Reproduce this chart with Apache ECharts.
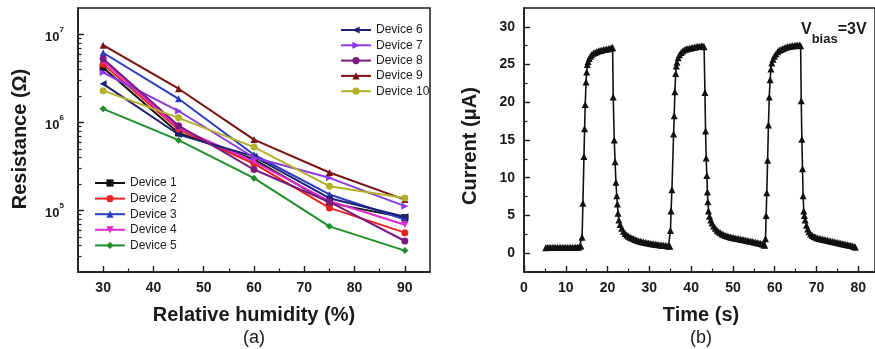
<!DOCTYPE html>
<html><head><meta charset="utf-8">
<script src="https://cdn.jsdelivr.net/npm/echarts@6/dist/echarts.min.js"></script>
<style>html,body{margin:0;padding:0;background:#fff}#c{width:875px;height:349px}</style>
</head><body><div id="c"></div>
<script>
// ---------- Panel (a): resistance vs relative humidity ----------
const humidity = [30, 45, 60, 75, 90];
const device1  = [4.2e6, 7.6e5, 3.8e5, 1.22e5, 8.3e4];
const device2  = [4.6e6, 8.3e5, 3.4e5, 1.07e5, 5.6e4];
const device3  = [6.2e6, 1.86e6, 4.3e5, 1.52e5, 7.9e4];
const device4  = [5.0e6, 8.7e5, 3.6e5, 1.28e5, 6.9e4];
const device5  = [1.43e6, 6.3e5, 2.33e5, 6.6e4, 3.5e4];
const device6  = [2.75e6, 7.3e5, 4.1e5, 1.38e5, 8.5e4];
const device7  = [3.7e6, 1.35e6, 4.0e5, 2.35e5, 1.12e5];
const device8  = [5.3e6, 9.2e5, 2.92e5, 1.25e5, 4.5e4];
const device9  = [7.57e6, 2.42e6, 6.4e5, 2.7e5, 1.33e5];
const device10 = [2.3e6, 1.13e6, 5.25e5, 1.89e5, 1.39e5];
const deviceNames = ['Device 1','Device 2','Device 3','Device 4','Device 5','Device 6','Device 7','Device 8','Device 9','Device 10'];
const humidityTicks = [30, 40, 50, 60, 70, 80, 90];
const humidityMinorTicks = [35, 45, 55, 65, 75, 85];
const resistanceTicks = [1e5, 1e6, 1e7];
const resistanceMinorTicks = [3e4,4e4,5e4,6e4,7e4,8e4,9e4,2e5,3e5,4e5,5e5,6e5,7e5,8e5,9e5,2e6,3e6,4e6,5e6,6e6,7e6,8e6,9e6];

// ---------- Panel (b): current vs time ----------
const cycle1 = [
 [5.2,0.72],[5.6,0.74],[6.0,0.75],[6.4,0.76],[6.8,0.76],[7.2,0.75],[7.6,0.75],[8.0,0.76],[8.4,0.76],[8.8,0.75],[9.2,0.76],
 [9.6,0.75],[10.0,0.75],[10.4,0.76],[10.8,0.76],[11.2,0.75],[11.6,0.76],[12.0,0.76],[12.4,0.77],[12.8,0.78],[13.2,0.80],[13.6,0.95],
 [13.9,2.1],[14.1,6.6],[14.35,12.8],[14.5,16.5],[14.65,19.7],[14.85,22.7],[15.0,24.0],[15.15,25.0],
 [15.35,25.4],[15.6,25.8],[15.9,26.1],[16.2,26.3],[16.6,26.5],[17.0,26.6],[17.4,26.7],[17.8,26.8],[18.2,26.85],[18.6,26.9],
 [19.0,27.0],[19.4,27.0],[19.8,27.05],[20.2,27.1],[20.6,27.15],[21.0,27.2],[21.2,27.25],
 [21.35,20.7],[21.6,15.0],[21.8,12.1],[22.0,9.4],[22.2,7.6],[22.35,6.5],[22.5,5.3],
 [22.7,4.4],[23.0,3.8],[23.4,3.3],[23.8,2.9],[24.2,2.6],[24.6,2.4],[25.0,2.25],[25.4,2.1],[25.8,2.0],[26.2,1.9],[26.6,1.8],
 [27.0,1.72],[27.4,1.65],[27.8,1.58],[28.2,1.52],[28.6,1.47],[29.0,1.42],[29.4,1.37],[29.8,1.33],[30.2,1.29],[30.6,1.25],
 [31.0,1.21],[31.4,1.18],[31.8,1.14],[32.2,1.11],[32.6,1.08],[33.0,1.05],[33.4,1.03],[33.8,1.0],[34.2,0.98],[34.6,0.95],[34.9,0.92]
];
const cycle2 = [
 [35.05,3.0],[35.2,5.6],[35.4,8.4],[35.8,15.8],[35.95,18.2],[36.1,21.4],[36.3,23.8],[36.45,24.8],
 [36.6,25.3],[36.9,25.9],[37.2,26.3],[37.6,26.6],[38.0,26.8],[38.4,26.95],[38.8,27.05],[39.2,27.1],[39.6,27.15],[40.0,27.2],
 [40.4,27.25],[40.8,27.3],[41.2,27.35],[41.6,27.4],[42.0,27.4],[42.4,27.45],[42.8,27.45],[43.1,27.35],
 [43.3,21.3],[43.45,16.2],[43.6,12.6],[43.75,10.3],[43.9,8.1],[44.0,6.8],[44.15,5.6],
 [44.4,4.9],[44.7,4.4],[45.0,4.0],[45.4,3.6],[45.8,3.3],[46.2,3.05],[46.6,2.85],[47.0,2.7],[47.4,2.55],[47.8,2.45],
 [48.2,2.35],[48.6,2.27],[49.0,2.2],[49.4,2.14],[49.8,2.08],[50.2,2.03],[50.6,1.98],[51.0,1.94],[51.4,1.9],[51.8,1.85],
 [52.2,1.8],[52.6,1.76],[53.0,1.72],[53.4,1.67],[53.8,1.62],[54.2,1.58],[54.6,1.53],[55.0,1.48],[55.4,1.43],[55.8,1.38],
 [56.2,1.33],[56.6,1.27],[57.0,1.2],[57.4,1.12],[57.6,1.05]
];
const cycle3 = [
 [57.8,1.9],[57.95,5.0],[58.1,8.0],[58.3,12.3],[58.5,17.0],[58.7,20.7],[58.9,23.0],[59.1,24.4],
 [59.3,25.2],[59.6,25.7],[59.9,26.1],[60.3,26.4],[60.7,26.7],[61.1,26.9],[61.5,27.0],[61.9,27.1],[62.3,27.2],[62.7,27.3],
 [63.1,27.35],[63.5,27.4],[63.9,27.45],[64.3,27.5],[64.7,27.5],[65.1,27.55],[65.5,27.55],[65.9,27.6],[66.2,27.5],
 [66.35,20.2],[66.5,15.1],[66.65,11.2],[66.8,7.6],[66.95,5.6],
 [67.1,5.0],[67.3,4.4],[67.6,3.7],[67.9,3.2],[68.2,2.85],[68.6,2.55],[69.0,2.35],[69.4,2.2],[69.8,2.1],[70.2,2.0],
 [70.6,1.95],[71.0,1.9],[71.4,1.85],[71.8,1.8],[72.2,1.75],[72.6,1.7],[73.0,1.65],[73.4,1.6],[73.8,1.55],[74.2,1.5],
 [74.6,1.45],[75.0,1.4],[75.4,1.35],[75.8,1.3],[76.2,1.25],[76.6,1.2],[77.0,1.15],[77.4,1.1],[77.8,1.05],[78.2,1.0],
 [78.6,0.95],[79.0,0.88],[79.3,0.78]
];
const timeTicks = [0, 10, 20, 30, 40, 50, 60, 70, 80];
const timeMinorTicks = [5, 15, 25, 35, 45, 55, 65, 75];
const currentTicks = [0, 5, 10, 15, 20, 25, 30];
const currentMinorTicks = [2.5, 7.5, 12.5, 17.5, 22.5, 27.5];

// ---------- styles ----------
const FONT = '"Liberation Sans", Arial, sans-serif';
const INK = '#1a1a1a';
const deviceColors = ['#111111','#e8231f','#2b3cc0','#e22ad0','#1f8f2a','#1d2275','#8a3ce0','#7a1a80','#7a1012','#b3b02a'];
const deviceSymbols = ['rect','circle','triangle','triangle','diamond','triangle','triangle','circle','triangle','circle'];
const deviceRotate = [0,0,0,180,0,90,-90,0,0,0];

const devices = [device1,device2,device3,device4,device5,device6,device7,device8,device9,device10];

const chart = echarts.init(document.getElementById('c'), null, {renderer: 'canvas'});

const tickLabelStyle = {color: INK, fontFamily: FONT, fontWeight: 'bold', fontSize: 14};

function mainAxis(extra) {
  return Object.assign({
    type: 'value',
    axisLine: {show: true, onZero: false, lineStyle: {color: INK, width: 1.5}},
    splitLine: {show: false},
  }, extra);
}
function minorAxis(extra) {
  return Object.assign({
    type: 'value',
    axisLine: {show: false, onZero: false},
    splitLine: {show: false},
    axisLabel: {show: false},
  }, extra);
}
function majorTick(values) {
  return {show: true, inside: true, length: 6, customValues: values, lineStyle: {color: INK, width: 1.4}};
}
function minorTick(values) {
  return {show: true, inside: true, length: 3.5, customValues: values, lineStyle: {color: INK, width: 1.2}};
}

const leftSeries = devices.map((d, k) => ({
  name: deviceNames[k],
  type: 'line',
  xAxisIndex: 0, yAxisIndex: 0,
  data: humidity.map((h, i) => [h, d[i]]),
  symbol: deviceSymbols[k],
  symbolRotate: deviceRotate[k],
  symbolSize: 7,
  showAllSymbol: true,
  lineStyle: {color: deviceColors[k], width: 2},
  itemStyle: {color: deviceColors[k]},
  emphasis: {disabled: true},
  z: 2 + k
}));

const gridA = {left: 78, top: 8, width: 352, height: 264};
const gridB = {left: 524, top: 8, width: 351, height: 264};

const option = {
  animation: false,
  backgroundColor: '#ffffff',
  grid: [
    Object.assign({show: true, borderColor: INK, borderWidth: 1.5, backgroundColor: 'transparent'}, gridA),
    Object.assign({show: true, borderColor: INK, borderWidth: 1.5, backgroundColor: 'transparent'}, gridB),
    Object.assign({show: false}, gridA),
    Object.assign({show: false}, gridB)
  ],
  xAxis: [
    mainAxis({gridIndex: 0, position: 'bottom', min: 25, max: 95, axisTick: majorTick(humidityTicks),
      axisLabel: Object.assign({customValues: humidityTicks, margin: 9}, tickLabelStyle)}),
    mainAxis({gridIndex: 1, position: 'bottom', min: 0, max: 84, axisTick: majorTick(timeTicks),
      axisLabel: Object.assign({customValues: timeTicks, margin: 9}, tickLabelStyle)}),
    minorAxis({gridIndex: 2, position: 'bottom', min: 25, max: 95, axisTick: minorTick(humidityMinorTicks)}),
    minorAxis({gridIndex: 3, position: 'bottom', min: 0, max: 84, axisTick: minorTick(timeMinorTicks)})
  ],
  yAxis: [
    mainAxis({gridIndex: 0, type: 'log', logBase: 10, position: 'left', min: 2e4, max: 2e7, axisTick: majorTick(resistanceTicks),
      axisLabel: {customValues: resistanceTicks, margin: 14, color: INK,
        formatter: v => '{b|10}{s|' + Math.round(Math.log10(v)) + '}',
        rich: {
          b: {fontFamily: FONT, fontWeight: 'bold', fontSize: 13, color: INK, verticalAlign: 'bottom', lineHeight: 18},
          s: {fontFamily: FONT, fontWeight: 'bold', fontSize: 8, color: INK, verticalAlign: 'top', lineHeight: 18}
        }}}),
    mainAxis({gridIndex: 1, position: 'left', min: -2.5, max: 32.5, axisTick: majorTick(currentTicks),
      axisLabel: Object.assign({customValues: currentTicks, margin: 9}, tickLabelStyle)}),
    minorAxis({gridIndex: 2, type: 'log', logBase: 10, position: 'left', min: 2e4, max: 2e7, axisTick: minorTick(resistanceMinorTicks)}),
    minorAxis({gridIndex: 3, position: 'left', min: -2.5, max: 32.5, axisTick: minorTick(currentMinorTicks)})
  ],
  legend: [
    {data: deviceNames.slice(0, 5), orient: 'vertical', left: 89, top: 172, itemWidth: 30, itemHeight: 9, itemGap: 3.6,
      textStyle: {fontFamily: FONT, fontSize: 12, color: '#222', lineHeight: 12}, selectedMode: false},
    {data: deviceNames.slice(5), orient: 'vertical', left: 335, top: 19, itemWidth: 30, itemHeight: 9, itemGap: 3.3,
      textStyle: {fontFamily: FONT, fontSize: 12, color: '#222', lineHeight: 12}, selectedMode: false}
  ],
  series: leftSeries.concat([{
    name: 'Current',
    type: 'line',
    xAxisIndex: 1, yAxisIndex: 1,
    data: cycle1.concat(cycle2, cycle3),
    symbol: 'triangle',
    symbolSize: 7,
    showAllSymbol: true,
    lineStyle: {color: '#111', width: 1.6},
    itemStyle: {color: '#111'},
    emphasis: {disabled: true},
    z: 3
  }]),
  graphic: [
    {type: 'text', x: 20, y: 139, rotation: Math.PI / 2,
      style: {text: 'Resistance (Ω)', font: 'bold 20px ' + FONT, fill: INK, align: 'center', verticalAlign: 'middle'}},
    {type: 'text', x: 254, y: 315,
      style: {text: 'Relative humidity (%)', font: 'bold 20px ' + FONT, fill: INK, align: 'center', verticalAlign: 'middle'}},
    {type: 'text', x: 254, y: 338,
      style: {text: '(a)', font: '18px ' + FONT, fill: INK, align: 'center', verticalAlign: 'middle'}},
    {type: 'text', x: 470, y: 146, rotation: Math.PI / 2,
      style: {text: 'Current (μA)', font: 'bold 20px ' + FONT, fill: INK, align: 'center', verticalAlign: 'middle'}},
    {type: 'text', x: 701, y: 315,
      style: {text: 'Time (s)', font: 'bold 20px ' + FONT, fill: INK, align: 'center', verticalAlign: 'middle'}},
    {type: 'text', x: 701, y: 338,
      style: {text: '(b)', font: '18px ' + FONT, fill: INK, align: 'center', verticalAlign: 'middle'}},
    {type: 'text', x: 801, y: 22,
      style: {text: '{v|V}{sub|bias}{v|=3V}', fill: INK, align: 'left', verticalAlign: 'top',
        rich: {
          v: {fontFamily: FONT, fontWeight: 'bold', fontSize: 16, color: INK, verticalAlign: 'top', lineHeight: 24},
          sub: {fontFamily: FONT, fontWeight: 'bold', fontSize: 13, color: INK, verticalAlign: 'bottom', lineHeight: 24}
        }}}
  ]
};
chart.setOption(option);
</script>
</body></html>
